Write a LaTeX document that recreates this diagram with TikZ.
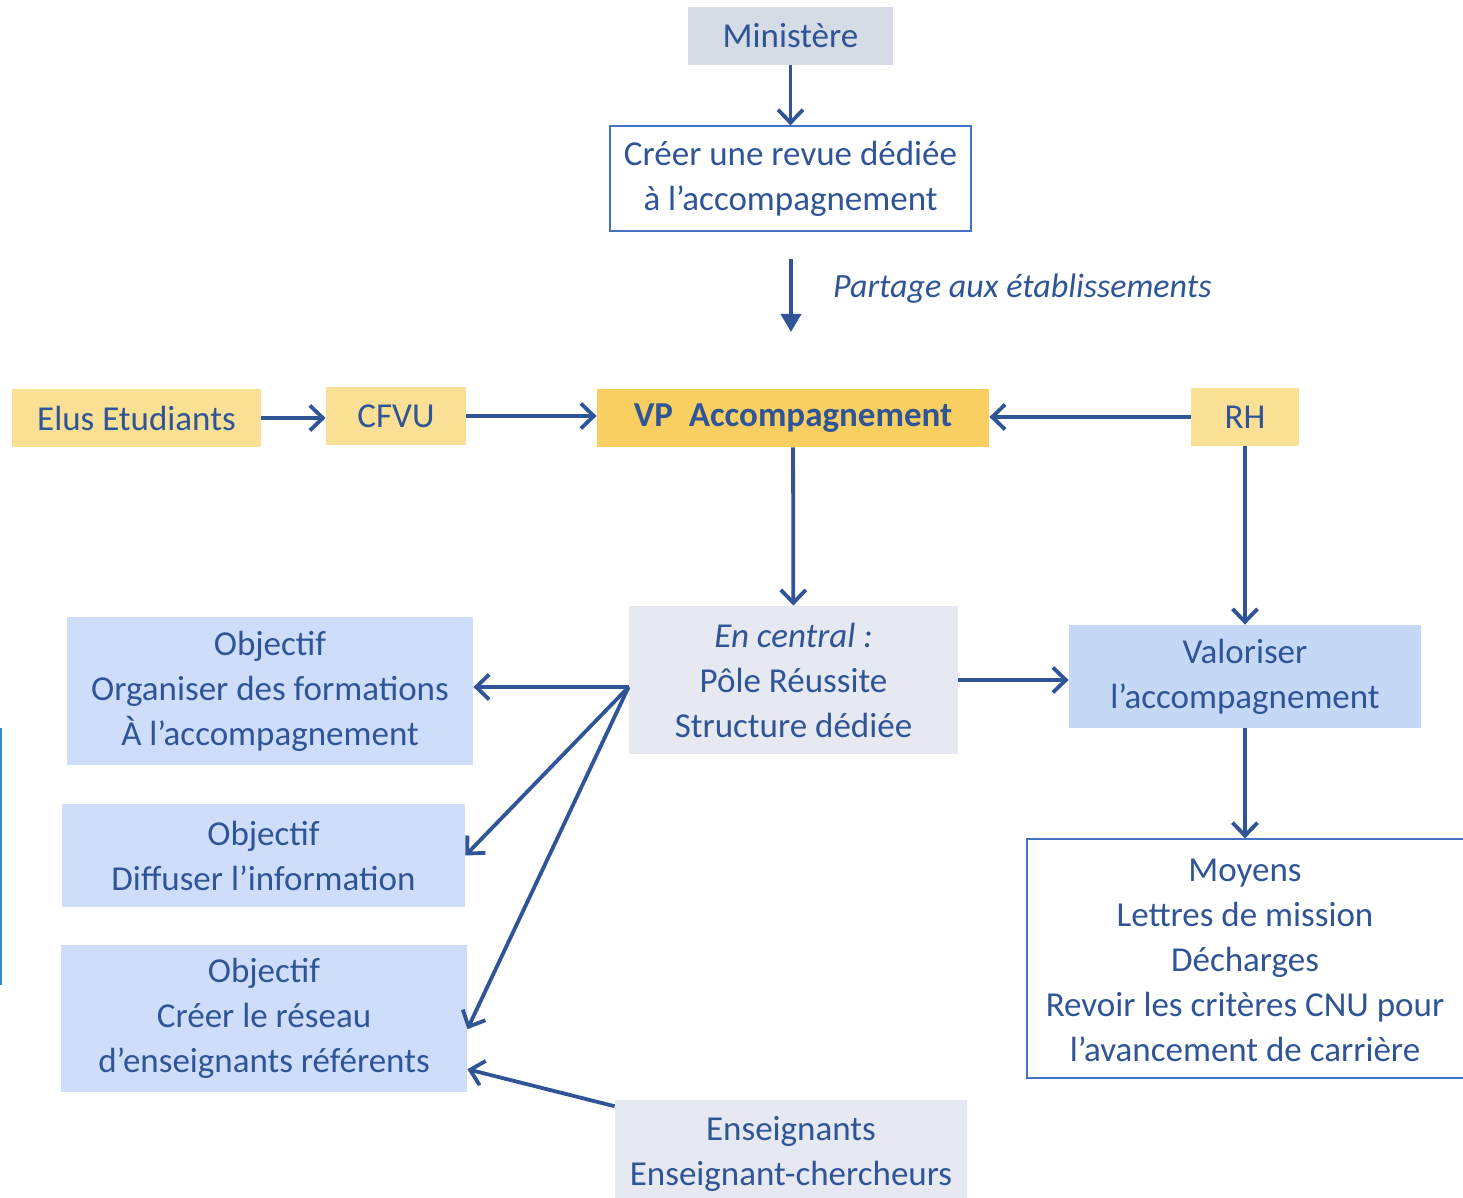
\documentclass[tikz,border=0pt]{standalone}
\usepackage{fontspec}
\setmainfont{Carlito}
\usepackage{tikz}
\usetikzlibrary{positioning,arrows.meta}
\definecolor{ctext}{RGB}{47,85,151}
\definecolor{cline}{RGB}{68,114,196}
\definecolor{cmin}{RGB}{214,220,229}
\definecolor{cyel}{RGB}{249,224,148}
\definecolor{cvp}{RGB}{248,207,96}
\definecolor{cgrey}{RGB}{230,233,241}
\definecolor{cobj}{RGB}{206,221,250}
\definecolor{cval}{RGB}{197,216,245}

\begin{document}
\begin{tikzpicture}[
  x=0.5pt,y=-0.5pt,
  font=\fontsize{17.5pt}{22.5pt}\selectfont, text=ctext,
  b/.style={rectangle,inner sep=0,align=center},
  y1/.style={b,fill=cyel,minimum height=29pt},
  wb/.style={b,draw=cline,line width=0.6pt,fill=white},
  a/.style={-{Straight Barb[length=6.5pt,width=12.5pt]},ctext,line width=1.9pt},
]
\useasboundingbox (0,0) rectangle (1463,1198);
% --- top: ministere and the revue ---
\node[b,fill=cmin,minimum width=102.5pt,minimum height=29pt] (min) at (790.5,36) {Ministère};
\node[wb,minimum width=180.5pt,minimum height=52.5pt] (cre) at (790.5,178.5) {Créer une revue dédiée\\ à l’accompagnement};
\draw[a] (min) -- (cre);
\coordinate (p1) at (791,259); \coordinate (p2) at (791,332);
\draw[a,-{Triangle[length=9pt,width=10pt]}] (p1) -- (p2);
\node[anchor=west,font=\fontsize{17pt}{22.5pt}\selectfont\itshape] (part) at (826,289) {Partage aux établissements};
% --- the VP row ---
\node[y1,minimum width=124.5pt] (elus) at (136.5,418) {Elus Etudiants};
\node[y1,minimum width=70pt] (cfvu) at (396,416) {CFVU};
\node[b,fill=cvp,minimum width=196pt,minimum height=29pt,font=\fontsize{17.5pt}{22.5pt}\selectfont\bfseries] (vp) at (793,418) {VP\ \ Accompagnement};
\node[y1,minimum width=54pt] (rh) at (1245,417) {RH};
\draw[a] (elus) -- (elus -| cfvu.west);
\draw[a] (cfvu) -- (cfvu -| vp.west);
\draw[a] (rh) -- (rh -| vp.east);
% --- central structure and objectives ---
\node[b,fill=cgrey,minimum width=164.5pt,minimum height=74pt] (cen) at (793.5,680) {{\itshape En central :}\\Pôle Réussite\\Structure dédiée};
\node[b,fill=cval,minimum width=176pt,minimum height=51.5pt] (val) at (1245,676.5) {Valoriser\\l’accompagnement};
\draw[a] (vp) -- (cen);
\draw[a] (rh) -- (rh |- val.north);
\draw[a] (cen) -- (cen -| val.west);
\node[b,fill=cobj,minimum width=203pt,minimum height=74pt] (obj1) at (270,691) {Objectif\\Organiser des formations\\À l’accompagnement};
\node[b,fill=cobj,minimum width=201.5pt,minimum height=51.5pt] (obj2) at (263.5,855.5) {Objectif\\Diffuser l’information};
\node[b,fill=cobj,minimum width=203pt,minimum height=73.5pt] (obj3) at (264,1018.5) {Objectif\\Créer le réseau\\d’enseignants référents};
\coordinate (hub) at ([yshift=-3.5pt]cen.west);
\draw[a] (hub) -- (hub -| obj1.east);
\draw[a] (hub) -- (obj2.east);
\draw[a] (hub) -- (obj3.-3);
\node[b,fill=cgrey,minimum width=176pt,minimum height=53.5pt] (ens) at (791,1153.5) {Enseignants\\Enseignant-chercheurs};
\draw[a] (ens.165) -- (obj3.-14);
% --- means box, cut by the right edge ---
\node[wb,minimum width=231.5pt,minimum height=119.5pt] (moy) at (1258.5,958.5) {};
\node[b] (moyt) at (1245,960) {Moyens\\Lettres de mission\\Décharges\\Revoir les critères CNU pour\\l’avancement de carrière};
\draw[a] (val) -- (val |- moy.north);
\draw[cline!85!cyan,line width=1pt] (1,728) -- (1,985);
\end{tikzpicture}
\end{document}
